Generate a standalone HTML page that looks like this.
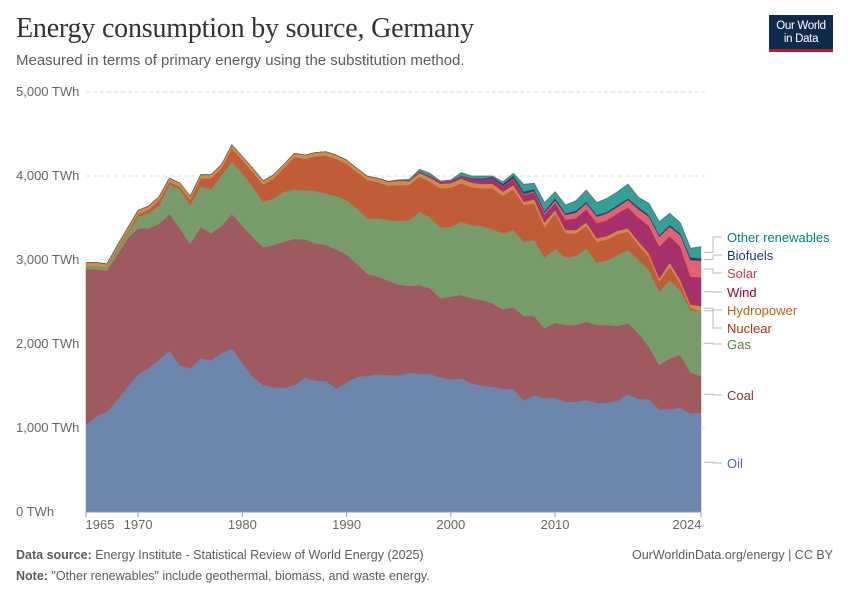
<!DOCTYPE html>
<html><head><meta charset="utf-8">
<style>
body{margin:0;background:#fff;font-family:"Liberation Sans",sans-serif;}
#wrap{position:relative;width:850px;height:600px;overflow:hidden;}
.title{position:absolute;left:16px;top:13px;font-family:"Liberation Serif",serif;font-size:28px;color:#333;letter-spacing:-0.2px}
.sub{position:absolute;left:16px;top:52px;font-size:15px;color:#5b5b5b}
.logo{position:absolute;left:769px;top:15px;width:64px;height:37px;background:#0f2a4f;color:#fff;font-size:11.5px;line-height:13px;text-align:center;box-sizing:border-box;padding-top:5px;border-bottom:3px solid #c4161c;letter-spacing:-0.3px}
.foot{position:absolute;font-size:12.5px;color:#5b5b5b}
</style></head><body>
<div id="wrap">
<div class="title">Energy consumption by source, Germany</div>
<div class="sub">Measured in terms of primary energy using the substitution method.</div>
<div class="logo">Our World<br>in Data</div>
<svg id="chart" width="850" height="600" style="position:absolute;left:0;top:0"></svg>
<div class="foot" style="left:16px;top:548px"><b>Data source:</b> Energy Institute - Statistical Review of World Energy (2025)</div>
<div class="foot" style="right:17px;top:548px">OurWorldinData.org/energy | CC BY</div>
<div class="foot" style="left:16px;top:569px"><b>Note:</b> "Other renewables" include geothermal, biomass, and waste energy.</div>
</div>
<script>
const years = Array.from({length:60},(_,i)=>1965+i);
const oil = [1036,1143,1194,1333,1492,1643,1710,1810,1921,1750,1706,1829,1810,1889,1948,1778,1611,1512,1484,1476,1512,1603,1563,1563,1472,1540,1611,1623,1643,1631,1631,1651,1651,1643,1603,1579,1591,1532,1504,1492,1468,1460,1325,1393,1353,1361,1313,1313,1333,1301,1301,1325,1405,1345,1345,1222,1222,1242,1175,1183];
const coal = [1853,1746,1679,1727,1766,1734,1667,1619,1627,1627,1484,1560,1507,1516,1600,1627,1659,1639,1695,1742,1742,1643,1635,1616,1655,1527,1341,1210,1159,1123,1075,1039,1051,1020,941,985,992,1012,1020,992,945,977,1008,940,834,893,913,913,933,925,925,889,841,782,623,528,607,627,485,436];
const gas = [35,35,30,60,60,140,180,220,357,466,465,492,524,607,623,627,603,543,555,595,587,587,627,615,635,647,663,663,694,722,758,786,873,845,845,833,873,873,881,881,905,920,885,905,845,877,806,822,873,742,774,846,873,873,913,873,933,774,745,778];
const nuclear = [3,3,6,10,20,30,40,60,25,30,60,90,130,80,155,155,175,205,235,285,385,372,408,450,443,430,430,455,430,410,429,417,417,425,464,464,457,448,448,488,448,484,437,437,357,425,286,270,266,250,246,249,218,179,159,119,159,79,25,0];
const hydro = [45,45,45,45,45,45,45,45,45,45,45,45,45,45,45,45,45,45,45,45,45,45,45,45,45,45,45,45,45,45,50,45,45,45,55,55,55,55,50,55,47,52,39,47,56,39,39,39,40,40,40,40,40,39,39,40,47,40,40,55];
const wind = [0,0,0,0,0,0,0,0,0,0,0,0,0,0,0,0,0,0,0,0,0,0,0,0,0,0,1,2,3,5,10,12,17,20,25,28,32,45,52,60,65,70,80,85,100,85,120,139,158,179,190,207,250,285,327,377,314,397,331,342];
const solar = [0,0,0,0,0,0,0,0,0,0,0,0,0,0,0,0,0,0,0,0,0,0,0,0,0,0,0,0,0,0,0,0,0,0,0,0,0,0,0,3,5,8,10,15,19,30,60,68,72,79,80,79,87,100,110,119,115,139,199,198];
const biofuels = [0,0,0,0,0,0,0,0,0,0,0,0,0,0,0,0,0,0,0,0,0,0,0,0,0,0,0,0,0,0,0,0,2,3,0,0,5,10,15,20,25,35,30,25,20,25,20,23,19,20,19,20,20,24,20,20,20,20,32,28];
const other = [0,0,0,0,0,0,0,0,0,0,0,0,0,0,0,0,0,0,0,0,0,0,0,0,0,2,0,0,0,0,0,10,23,31,8,8,35,25,30,9,23,26,87,66,99,78,98,119,139,147,159,158,171,119,139,158,139,127,107,139];
const yTicks = [0,1000,2000,3000,4000,5000];
const yTickLabels = ["0 TWh","1,000 TWh","2,000 TWh","3,000 TWh","4,000 TWh","5,000 TWh"];
const xTicks = [1965,1970,1980,1990,2000,2010,2024];

const series = [
 {name:"Oil",data:oil,color:"#6d86ae",tc:"#4c6a9c",ly:463},
 {name:"Coal",data:coal,color:"#9e5a5f",tc:"#883039",ly:395},
 {name:"Gas",data:gas,color:"#789b6a",tc:"#578145",ly:344},
 {name:"Nuclear",data:nuclear,color:"#c05c37",tc:"#b13507",ly:328},
 {name:"Hydropower",data:hydro,color:"#d28a45",tc:"#c15f1a",ly:310},
 {name:"Wind",data:wind,color:"#a8306a",tc:"#970046",ly:292},
 {name:"Solar",data:solar,color:"#e0636f",tc:"#d73c50",ly:273},
 {name:"Biofuels",data:biofuels,color:"#2c3f6e",tc:"#1a3c6e",ly:255},
 {name:"Other renewables",data:other,color:"#339f96",tc:"#00847e",ly:237}
];

const X0=86,X1=701,Y0=512,YK=0.084;
const xs=y=>X0+(y-1965)*(X1-X0)/(2024-1965);
const ys=v=>Y0-v*YK;
const svg=document.getElementById('chart');
const NS="http://www.w3.org/2000/svg";
function mk(t,a){const e=document.createElementNS(NS,t);for(const k in a)e.setAttribute(k,a[k]);svg.appendChild(e);return e;}

yTicks.forEach((v,i)=>{
  if(v>0){const g=mk('line',{x1:X0,x2:X1+4,y1:ys(v),y2:ys(v),stroke:'#ddd','stroke-dasharray':'4,3'});
  
  }
  const t=mk('text',{x:16,y:ys(v)+4,'font-size':13,fill:'#666','font-family':'Liberation Sans, sans-serif'});
  t.textContent=yTickLabels[i];
  
  
});

let base=years.map(()=>0);
series.forEach(s=>{
  const top=base.map((b,i)=>b+s.data[i]);
  let d='M'+years.map((y,i)=>xs(y).toFixed(1)+','+ys(top[i]).toFixed(1)).join('L');
  for(let i=years.length-1;i>=0;i--)d+='L'+xs(years[i]).toFixed(1)+','+ys(base[i]).toFixed(1);
  d+='Z';
  const p=mk('path',{d:d,fill:s.color,stroke:s.color,'stroke-width':0.5});
  
  
  s.mid=(base[59]+top[59])/2;
  base=top;
});
const ol=mk('path',{d:'M'+years.map((y,i)=>xs(y).toFixed(1)+','+ys(base[i]).toFixed(1)).join('L'),fill:'none',stroke:'#555','stroke-width':0.8,'stroke-opacity':0.6});



const ax=mk('line',{x1:X0,x2:X1,y1:Y0,y2:Y0,stroke:'#999'});


xTicks.forEach(y=>{
  const tk=mk('line',{x1:xs(y),x2:xs(y),y1:Y0,y2:Y0+5,stroke:'#999'});
  
  
  const t=mk('text',{x:y===1965?xs(y)+14:(y===2024?xs(y)-14:xs(y)),y:Y0+17,'font-size':13,fill:'#666','text-anchor':'middle','font-family':'Liberation Sans, sans-serif'});
  t.textContent=y;
  
  
});

series.forEach(s=>{
  const my=ys(s.mid);
  const c=mk('path',{d:`M704,${my.toFixed(1)}H713V${s.ly}H722`,fill:'none',stroke:'#bbb','stroke-width':1});
  
  
  const t=mk('text',{x:727,y:s.ly+5,'font-size':13,fill:s.tc,'font-family':'Liberation Sans, sans-serif'});
  t.textContent=s.name;
  
  
});
</script>
</body></html>
